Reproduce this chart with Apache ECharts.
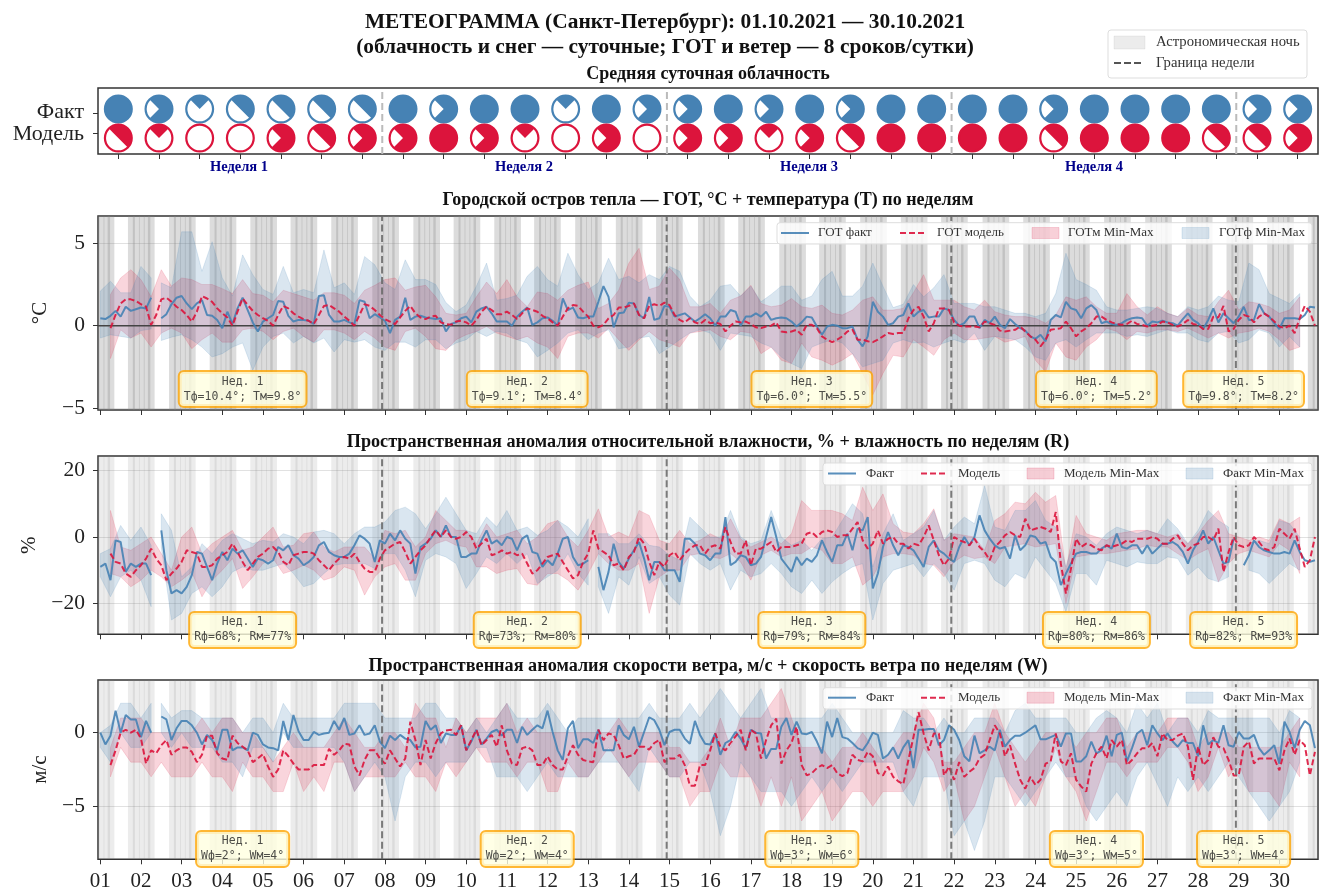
<!DOCTYPE html>
<html><head><meta charset="utf-8">
<script src="https://cdn.jsdelivr.net/npm/echarts@6/dist/echarts.min.js"></script>
<style>html,body{margin:0;padding:0;background:#fff}#c{width:1327px;height:888px}</style>
</head><body><div id="c"></div><script>
const cloudFact=[1,.75,.25,.5,.5,.5,.5,1,.75,1,1,.25,1,.75,.75,1,.75,1,.75,1,1,1,1,.75,1,1,1,1,.75,.75];
const cloudModel=[.5,.25,0,0,.75,.5,.75,.75,1,.75,.25,0,.75,0,.75,.75,.25,.75,.5,1,1,1,1,.5,1,1,1,.5,.5,.75];
const nightStarts=[-.31,.68,1.69,2.69,3.69,4.68,5.68,6.69,7.70,8.69,9.69,10.67,11.68,12.68,13.67,14.70,15.69,16.70,17.68,18.69,19.69,20.68,21.70,22.70,23.68,24.69,25.70,26.70,27.70,28.70,29.70];
const weekBounds=[6.93,13.93,20.93,27.93];
const cloudWeekBounds=[6.49,13.49,20.49,27.49];
const dayLabels=['01','02','03','04','05','06','07','08','09','10','11','12','13','14','15','16','17','18','19','20','21','22','23','24','25','26','27','28','29','30'];
const weekCenters=[3.5,10.5,17.5,24.5,28.12];
const gotNotes=['Tф=10.4°; Tм=9.8°','Tф=9.1°; Tм=8.4°','Tф=6.0°; Tм=5.5°','Tф=6.0°; Tм=5.2°','Tф=9.8°; Tм=8.2°'];
const humNotes=['Rф=68%; Rм=77%','Rф=73%; Rм=80%','Rф=79%; Rм=84%','Rф=80%; Rм=86%','Rф=82%; Rм=93%'];
const windNotes=['Wф=2°; Wм=4°','Wф=2°; Wм=4°','Wф=3°; Wм=6°','Wф=3°; Wм=5°','Wф=3°; Wм=4°'];

const gotFact=[.45,.4,.6,.9,.55,1.15,.9,1,
1.1,1.05,1.7,null,.45,.7,1.3,1.7,
1.8,1.35,1,1.35,1.55,.65,.6,.35,
-.15,.85,.1,1.05,1.7,.95,.2,-.35,
.25,.45,.65,1.5,1.45,.6,.25,.35,
.35,.3,.1,1.8,1.85,.65,.25,.25,
.35,.2,.1,1.55,1.45,.45,.7,.5,
.3,-.45,.35,.55,1.7,.35,.55,.6,
.5,.45,.4,.45,-.35,.1,.2,.45,
.55,.2,.85,1.05,1.15,.75,.25,.25,
.25,0,.55,.85,1.1,.05,.2,.45,
.5,.3,0,1.65,.95,1.1,.5,.45,
.55,.55,1.45,2.4,1.75,-.1,.75,.8,
1.4,1.35,.65,.45,1.75,.35,.45,1.2,
1.15,.55,.65,.75,.5,.25,.45,.7,
.45,0,.55,.55,.95,.85,0,.55,
.55,.75,.55,.85,.35,.45,.5,.45,
.25,-.05,.2,.55,.5,-.05,-.55,-.05,
.05,0,-.15,-.15,-.05,-.85,-1.25,-.65,
1.45,.85,.55,.05,.15,.55,.65,1.35,
.55,.85,.95,.5,.55,.55,1.05,.95,
.35,0,.15,.55,.55,-.15,.35,.15,
.55,.05,-.15,.4,.1,-.15,-.3,-.65,
-.8,-.55,-.95,.35,.65,.5,1.45,1.05,
.95,.45,1.05,1.25,.95,.15,.25,.1,
.05,.15,.35,.45,.5,.45,0,.25,
.2,.3,.2,.15,0,.4,.75,.35,
.15,-.2,.35,1.05,.2,.75,.45,.15,
.55,1.15,.35,.35,1.3,.75,.55,.15,
-.2,.45,.45,.45,.4,.65,1.15,1.1];
const gotModel=[null,null,-.15,.65,1.35,1.6,1.6,1.5,
1.3,1.15,.05,.65,1.6,1.7,1.45,1.15,
.95,.65,.25,.85,1.8,1.65,1.45,1.05,
.75,.5,0,.85,1.65,1.25,.9,.65,
.45,.3,0,.65,1.2,1.05,.75,.55,
.4,.3,.1,.65,1.2,1.25,1.05,.85,
.55,.3,0,.65,1.3,1.2,.95,.65,
.4,.25,.1,.5,.9,1.2,.75,.5,
.4,.55,.6,.2,.1,.05,.25,.3,
.2,0,.35,.85,1.15,.95,.7,.7,
.85,.65,.4,.75,1.05,.95,.85,.6,
.45,.2,0,.55,1.05,1.25,1.2,.85,
.55,0,-.1,.05,.45,.65,1.1,1.1,
1.2,1.35,.65,.45,1.2,1.3,1.2,1.4,
1.25,.65,.35,.2,.45,.2,.1,.35,
.15,.2,.1,-.35,0,.25,.2,.25,
.1,-.1,-.15,-.05,0,.2,-.35,-.4,
-.35,-.25,-.55,.05,.05,-.15,-.65,-.85,
-1,-.85,-.65,-.35,-.25,-.85,-.85,-.95,
-1,-.85,-.65,-.45,-.5,-.45,-.45,.45,
.95,1.15,.55,-.35,.15,1.05,1.05,.95,
.2,0,-.05,-.05,-.05,-.1,.25,.15,
.05,-.3,-.35,-.3,-.25,-.05,-.35,-.65,
-.85,-1.25,-.85,-.25,-.2,-.15,.25,-.15,
-.65,-.35,-.15,.15,.55,.55,.35,.2,
.1,.05,.1,.3,.1,.05,-.05,0,
.05,.25,.2,.05,-.05,.1,.35,.1,
.05,-.2,-.2,.55,.5,1.2,-.35,-.2,
.35,.65,.55,.2,.55,.75,.55,.25,
-.05,-.15,0,-.45,.45,1.2,.85,0];
const gotFactMax=[2.1,2.7,2,2,3.6,2.9,2.6,2.3,5.7,5.7,3.3,5.1,2.9,1.8,4.3,3.1,2.2,1.9,3.6,2,2.2,2,4.6,2.3,2.6,1.9,4.2,3.7,2.6,2.2,4,2.8,2.8,2.5,1.4,.85,1.25,2.4,3.8,1.55,1.65,1.85,3,3.6,2.8,2.4,4.4,3.1,2.2,2.6,4.1,2.8,3,2.6,3.1,2.8,3.6,3.3,1.8,1.15,1.55,2.4,2.5,1.8,2.4,1.45,1.9,2.4,2.4,1.55,1.8,2.8,3.3,1.8,1.8,2.4,3.8,2.4,1.1,1.3,2.5,1.75,2.3,3.1,1.35,1.35,1.35,1.15,1.15,.95,.75,.75,.55,.75,1.95,4.4,2.8,2.5,2.15,1.15,.95,.95,1.05,1.15,1.05,.75,.55,1.15,.95,1.15,1.8,1.55,1.45,3.8,3.4,1.95,1.65,1.35,1.95,2.9];
const gotFactMin=[-.75,-.55,-.65,-.75,-.3,-.2,-.9,-.7,-.55,-.85,-1.3,-1.9,-1.7,-1.3,-1.05,-2.7,-1.3,-.65,-.45,-1.05,-.65,-1.05,-.75,-1.6,-.85,-1,-.85,-1.3,-1.5,-1,-1,-1.3,-.85,-.85,-1.4,-1.05,-.85,-.35,-.65,-.35,-.45,-.85,-1.05,-1.9,-1.5,-1.05,-.45,-.25,-.85,-.45,-.25,-1.4,-1.3,-.75,-.65,-1.7,-1.3,-.85,-.45,-.25,-.45,-1.5,-.45,-.55,-.65,-1.05,-1.3,-1.9,-2.3,-2.6,-1.3,-1.05,-.85,-1.05,-1.7,-2.5,-2.3,-2.1,-1.05,-.85,-1.05,-1,-1.3,-1.05,-.85,-1.05,-.45,-1.5,-.65,-.75,-.85,-1.3,-1.9,-2.1,-1.05,-.85,-1.3,-.85,-.45,-.45,-.45,-.65,-.55,-.65,-.45,-.25,-.45,-.45,-.85,-1,-.45,-.35,-1.05,-.85,-.25,-.45,-1.3,-.65,-1.3,-.35];
const gotModelMax=[null,1.9,2.9,3.4,2.8,1.75,3.4,2.4,2.9,2.8,2.5,2.5,2.25,1.95,2.8,1.95,1.85,1.45,2.15,1.95,1.75,1.55,2,2,1.85,1.35,2.15,2.45,2.8,2.9,2.15,2.35,2.45,1.75,.75,.65,.75,1.75,2.65,1.95,2.8,1.75,1.15,2.05,1.95,1.55,2.15,2.45,2.65,1.05,1.35,2.15,3.8,4.7,2.2,2.4,3.5,2.8,1.15,1.15,1.35,.75,1.55,1.8,2.45,1.35,1.15,1.25,1.65,1.15,1.05,1.25,.75,.65,.95,1.55,1.75,.95,.95,1.05,2,3.1,1.55,1.55,1.55,1.15,.95,1.55,.85,.65,.55,.55,.45,.15,.65,1.75,1.55,1.75,1.15,.75,.75,1.95,1.15,.65,1.15,.75,.55,1.05,.65,.55,1.45,2.15,.95,1.45,1.35,1.15,.75,.95,1.75,1.85];
const gotModelMin=[null,-2,-.25,-.75,-.45,-1.3,-.45,-.15,-.45,-1.4,-.85,-.45,-1,-1,-.25,-.15,-.35,-.85,-.35,-.15,-.65,-1,-.25,-.25,-.45,-.85,-.35,-.75,-1.3,-1.5,-.35,-.15,-.65,-1.4,-1.5,-.85,-.55,-.35,-.05,-.45,-.65,-.85,-.65,-1.05,-1.3,-2,-.65,-.45,-.45,-.75,-.15,-.85,-1.5,-.85,-.35,-.85,-1.05,-1.3,-.45,-.35,-.25,-.65,-.85,-.35,-.45,-1.7,-1.3,-2.1,-2.3,-1.05,-1.9,-2.1,-2.4,-2.1,-1.7,-2.9,-4.2,-2.9,-1.8,-1.9,-.85,-1.3,-1.8,-.85,-.45,-.85,-.85,-.75,-.65,-1,-.85,-.65,-2.1,-2.8,-1.05,-1.9,-2.1,-1.3,-.85,-.15,-.35,-.85,-.35,-.45,-.25,-.25,-.35,-.15,-.45,-.75,-.45,-.75,-.45,-.35,-.15,-.35,-.85,-1.5,-1.3,-.4];

const humFact=[-9,-8,-13,-1,-1.5,-10.5,-8,-9,
-8,-8,-11.5,null,2,-10,-17,-16,
-17,-15,-11.5,-4.5,-5,-9,-13,-8,
-4.5,-7,-3.5,-5,-4,-6.5,-9,-6.5,
-7,-8,-7,-3,-4,-2.5,-5.5,-6.5,
-8.5,-7.5,-6,-2.5,-1.5,-4.5,-5.5,-6,
-6,-5,-2.5,.5,-.5,-2,-7.5,-1,
-2,1,-1,2,-.5,-2,-11,-3,
-2,-.5,2,0,3.5,0,0,-6,
-6,-5,-5,-1,2,-2,-1,-2.5,
0,-.5,-4,-.5,.5,-4.5,-5,-9,
-7,-8.5,-5,-.5,0,-6,-8.5,-8,
-7,null,-9,-16,-10.5,-2,-7.5,-9.5,
-6.5,-4,-1.5,-6.5,-13,-7.5,-7.5,-10,
-10,-10,-13.5,-.5,-.5,-2,-5,-5.5,
-7,-5,-5,6,-8.5,-7.5,-5.5,-6,
-8.5,-8,-6,0,6,0,-6.5,-8.5,
-10.5,-6,-8.5,-6.5,-7.5,-5.5,-1,-4.5,
-7.5,-2.5,-2.5,1,-4,2.5,2,6,
-15.5,-11,-3,1.5,-2.5,-5.5,-2.5,-3,
-4,-6.5,-9,-3,-1,-4,-5,-6.5,
-7.5,-3,0,-2.5,0,6.5,2,-.5,
-2.5,-3.5,-3,-6.5,.5,-4,-2.5,.5,
0,-2,-1.5,-6,-7.5,-14.5,-11,-8,
-5,-4.5,-4.5,-5,-5,-3.5,-2.5,-3.5,
1,-3,-3.5,-2.5,-2.5,-5,-2.5,-5,
-3.5,-2,-2,-1.5,-2.5,-4.5,-8,-4,
-1.5,2,-2,0,-4,-8,-7.5,-.5,
null,-8.5,-5.5,-1,-3,-4,-4.5,-5,
-5,-4.5,-5,-1,-4.5,-7,-7.5,-7];
const humModel=[null,null,-5,-7.5,-8,-11,-12,-10,
-8.5,-6.5,-3.5,-6.5,-8.5,-13,-11,-9.5,
-7.5,-4,-4.5,-5,-9,-9,-8.5,-6.5,
-5.5,-4.5,-2,-4.5,-7.5,-10,-8,-6,
-5,-3.5,-3,-4.5,-7.5,-8.5,-5.5,-5,
-4.5,-4.5,-5,-7,-8.5,-10,-8,-6.5,
-6,-6.5,-5,-7.5,-9.5,-10.5,-10.5,-6.5,
-4,-3,-2,-1.5,-4.5,-8,-6,-4,
-2.5,0,2,0,2,0,-.5,0,
1.5,0,-3.5,-2,-.5,-5.5,-5,-4,
-5,-4.5,-5.5,-5,-8,-11,-10,-8,
-6,-5.5,-5,-7.5,-10,-12.5,-11.5,-7.5,
-5,2,-3.5,-4.5,-5.5,-8.5,-8,-10,
-6,-4.5,0,-2,-7.5,-11.5,-7.5,-9,
-5.5,-4.5,-7,-5,-3.5,-2.5,-2.5,-5,
-3,-2.5,-3.5,3,-1.5,-5,-5,-1,
-8.5,-3.5,-3.5,-2.5,-1.5,-4.5,-3,-3,
-3,-2.5,-2,1,1.5,0,1.5,2,
1.5,0,.5,.5,2.5,4.5,-1,-3.5,
-2,2,-2,-.5,0,-2,-2,-3.5,
-2,-2.5,0,3.5,-1,-5.5,-8.5,-6.5,
0,-1,-1.5,-2.5,-.5,-3,-4.5,-7,
-3,-1.5,.5,1.5,.5,0,5.5,2,
2.5,3,2.5,1.5,7.5,-8,-17,-9.5,
-.5,-3,-2,-2.5,-3.5,-4,-2.5,-3,
-2.5,-2,-1,-1.5,-.5,-.5,-.5,0,
-.5,-2,-2,-.5,.5,-2,-4,-2.5,
-2,0,0,-1,2.5,-10.5,-4.5,0,
-2.5,-3,-2.5,0,-1.5,-3.5,-4,-3,
2.5,1,-.5,2.5,-3.5,-9,-7,0];
const humFactMax=[-5,-3.5,3.5,-1,3,-2.5,7,2,-12,-9,-2,-5,-1,1,-.5,-2,-1,-1.5,1,0,-2,1.5,2,1,-2,1,3,3,4.5,8,9,7,2.5,7,12,7,2,1,6,3,8,2,3,.5,2,5,3,0,5.5,1,1,-2,-2,1,-2.5,-3,-5.5,-7,6,3,0,0,8,0,-2,-1,8,0,-2.5,-1,-4,-.5,0,5,10,7,-9,1,7,-1,1,3,8,-1,3,6,4,15.5,3,2,8,8,11,5,3,-9,1,0,-2.5,1,3,2,1,2,1,5.5,2.5,-2,2,8,5,3,0,-2,-1,-2,5,4,0,-3];
const humFactMin=[-12,-18,-12,-10,-13,-21,-3,-25,-23,-17,-15,-18,-15,-10.5,-9,-10,-10,-9,-8,-11,-15,-14,-11,-8.5,-8,-8,-8,-9.5,-5,-5,-10,-18,-7,-5,-6,-8,-15.5,-11,-6,-8,-5,-8,-5,-14,-12,-10,-5,-11,-14.5,-15,-23,-12,-14.5,-6,-14,-12,-17.5,-20.5,-5,-8,-10,-8,-16,-10,-12,-11,-8,-11,-15,-17,-13,-17,-13.5,-11,-9,-8,-25,-14,-10,-9,-8,-12,-8,-11,-16,-8,-7,-8,-13,-15,-11,-12.5,-6,-10,-14,-22.5,-11,-11,-14.5,-7,-8,-9,-7.5,-8,-8,-6,-6.5,-11.5,-9,-12.5,-13.5,-12,null,-10,-11,-14,-11,-8,-10,-15];
const humModelMax=[null,8,-3,-4,-2,0,-5,-10,0,3,-5,-2,0,2,-4,-3,0,3,-3,-2.5,1,1.5,-3,-4.5,-3,-3,-3,-6.5,2,1,2,-3,0,8,5,2,2,-2,4,0,1,2,-2,0,4,5,0,-3,2,8.5,0,1.5,0,8,6.5,-1,-2,2,-2,-1,1,-.5,5.5,-.5,-3,-1.5,0,-2,1,11,8,8,8,7,5,15,8,13,4,1.5,1,4,8.5,-1,1,.5,0,-4,5,7,10.5,10,13.5,10.5,12.5,-10,6.5,1,0,-1,1,1.5,2,2,1,0,1,-2,1,5,8,1,0,-1,0,-1,5.5,4,6,-4];
const humModelMin=[null,-11,-12,-15,-13,-10,-12,-15,-13,-10.5,-18,-13,-10,-6.5,-15.5,-12,-8,-6.5,-11,-10,-8.5,-10,-13,-12,-9,-10,-17.5,-12,-9,-8,-13,-13,-5,-2,-1,-2.5,-3,-9,-9,-11,-10,-9.5,-14,-14.5,-11,-11,-13,-16,-11,-5,-8,-10,-10,-8,-23,-12,-10,-10,-5.5,-5,-6,-6.5,-5,-7.5,-13,-5.5,-4,-6,-5,-5,-3,-4,-8,-8,-6,-14.5,-12,-6,-5,-5,-5.5,-8,-8.5,-12,-7.5,-5.5,-6.5,-6,-8,-3,-2.5,-2,-3,-2.5,-2,-20,-6,-5.5,-5,-5,-4.5,-4,-3.5,-2.5,-3,-3,-5,-7,-5,-3.5,-13.5,-8,-5,-4,-5,-6,-2,-4,-11,-10];

const windFact=[0,-.8,-.2,1.5,0,1.2,.9,.9,
-.3,.8,0,null,1.1,.9,-.5,.3,
.8,.8,.5,0,-.8,-.15,-.5,-1.2,
.2,.2,-1.2,-1,-1,-1.2,0,-.15,
-.8,-1,-1.05,-1.2,.8,-.5,1.2,.1,
-.5,-.5,.05,-.15,-.05,0,.8,.2,
1,-.15,-.05,.5,-.15,-.05,.5,-.6,
-1.05,-.2,-.5,-.15,-.4,-.5,-1,-.95,
.8,.2,.5,-.7,-.05,-.15,-.15,.5,
-1.2,-.6,.2,-.8,-.4,.05,.2,-.2,
.2,.2,-.7,.4,-.15,.2,.5,.3,
1.5,.05,-1.2,-1.85,.3,.8,-1.05,-.45,
-.45,-.7,.2,-1.2,-1.2,-1.2,.5,-.15,
-.45,.4,-.95,.05,1.05,.85,.2,-.85,
.05,.2,.2,-.4,-.75,.8,-.15,-.75,
-.8,-.05,-1.5,-.7,-.5,.05,-.4,-1.05,
.2,0,-.05,-1.75,-1.1,-1.1,.4,1,
-.15,.75,-.05,-.1,.05,-.6,-1.4,.75,
-.3,1,-.3,-.4,-.7,-1.05,-1.2,-.7,
0,-.15,-1.75,-1.5,-1,-1.75,-1,-.5,
-2.4,.2,.2,.25,.25,-.85,-.5,.5,
.2,-.5,-1.6,-1.95,-.2,-1.4,-1.2,-.95,
-1.2,.2,-.95,-.5,-.2,-.2,0,.25,
.5,-.45,-.45,-.3,-.15,-.95,-.05,-.05,
-1.95,-1.95,-1.6,-.6,-1.4,-1.2,-.2,-1.6,
-.15,0,-1.95,-1.05,-.05,.2,-.85,.5,
-.05,-.5,-.05,-.6,-.95,-.5,-.7,-.7,
-1.6,.5,-.8,-.5,-.7,.5,-.85,-.95,
.05,-.4,-.4,-.15,-1.05,-1.5,-1.2,-.85,
-2.1,.75,.05,-1.05,.2,.8,.5,-1.05];
const windModel=[null,null,-2.2,-1.2,0,.2,0,.2,
-.4,-2.1,-1.2,-1.4,-.85,-.5,-1.5,-1.2,
-1,-1,-1.3,-2,-1.5,-.2,-.2,-1.4,
-1.75,-1.85,-.2,-.7,-.95,-1.2,-2,-1.75,
-1.45,-2.3,-3,-2.5,-1.2,-1.6,-2.1,-2.5,
-2.5,-2.5,-2.2,-2.2,-2.2,-1.1,-1.5,-1.2,
-.75,-.8,-2.3,-2.9,-1.85,-1.2,-1.2,-1.75,
-2.1,-1.2,-1.75,-2.3,-1.75,.75,-.5,-2.2,
-.5,-1.75,-.7,-.05,.15,.2,-.15,.5,
-1.2,-.5,.2,-.85,-.5,-.15,-.95,.5,
-1.2,-2.1,-2.2,-1.05,-.95,-1.2,-2.2,-2.2,
-1.6,-2.2,-2.5,-2.5,-1.6,-.85,-1.5,-1.85,
-1.95,-2,.2,-.5,-.05,-.15,-.85,-1.75,
-1.6,-1.5,-.95,-.95,-1.15,-.7,-.5,-2,
-1.75,-1.75,-1.5,-2.2,-3.6,-3.6,-2.2,-2.2,
-1.2,-.05,-.95,-1.2,-.7,-.25,.2,-1.2,
.2,-.05,-1.75,-.5,.5,.95,-2.1,-1.2,
-.7,.4,-2.2,-2.9,-2.75,-2.4,-2.2,-2.4,
-2.2,-2.75,-2.95,-2.75,-1.5,-1.85,-1.95,-1.3,
-1.6,-2.75,-2.9,-2.3,-3,-3.3,-3.5,-1.85,
-.3,1.4,-.05,-1.2,-.05,-.05,-2.9,-2.3,
-3.2,-2,-3,-2.65,-2.4,-1.75,-1.5,-.5,
.5,-.05,-1.6,-.85,-2.1,-3.2,-3.8,-3,
-3.55,-3.2,-2.1,-1.95,-.05,-1.95,-2.2,-1.4,
-3.2,-3.65,-4,-2.1,-1.4,-.95,-1.75,-.5,
-.95,-.5,-2.2,-1.85,-1.4,-1.05,-1.05,-.7,
-1.6,-.05,-.5,-.5,-.2,-.05,-.95,-3.2,
-.95,-2.2,-1.85,-.3,-.95,-1.05,-1.85,-2.9,
-2.9,-.95,-.6,-2.1,-1.75,-1.75,-1.75,-1.75,
-2.55,-1.2,-.4,-1.5,-.5,-.85,-2.9,-1.3];
const windFactMax=[0,.5,2,2,1,2,2,1,1.5,1.5,1,1,1,1,0,1,1,0,2,1,1,1,1,1,2,2,2,2,1,1,1,1,2,2,1,1,0,1,0,1,2,1,1,1,2,1,0,1,1,1,1,1,1,1,2,1,1,1,2,1,2,3,2,1,2,3,1,1,1,1,1,1,2,1,0,0,0,0,0,1.5,1,1,0,1,0,0,1,1,1,0,1.5,2,1,1,1,1,0,0,1,1.5,1,0,2,1,2,0,1,1,0,1.5,1,1,1,1,1,1,0,1.5,1,1];
const windFactMin=[-1,-2,0,-1,-1,0,0,-1,0,-1,-1,-1,-2,-2,-3,-1,-1,-2,0,-1,-1,-1,-1,-1,-2,-4,-3,-2,-3,-6,-3,-2,-2,-3,-2,-2,-2,-1,-1,-3,-3,-3,-4,-3,-2,-3,-3,-3,-3,-2,-2,-2,-3,-4,-1,-2,-3,-3,-2,-2,-4,-7,-5,-2,-3,-4,-4,-4,-5,-4,-3,-4,-3,-4,-3,-2,-2,-2,-2,-4,-5,-3,-3,-3,-7,-6,-8,-6,-3,-3,-4,-5,-4,-3,-2,-3,-3,-5,-6,-5,-4,-5,-3,-2,-3.5,-5,-3,-4,-3,-4,-3,-2,-3,-4,-5,-6,-5,-4,-2,-3];
const windModelMax=[null,-1,1,1,1,0,0,0,0,0,1,0,1,1,0,0,-1,-2,-1,0,-1,-1,-1,0,1,0,-1,-1,0,0,-1,2,1,1,-1,1,0,1,1,1,2,0,1,0,0,0,0,0,0,0,0,1,0,0,0,0,-1,-1,-2,-2,-1,1,-1,1,1,1,2,3,1,-1,-1,-1,-2,-1,-1,0,-1,-2,-1,0,0,2,1,-2,-2,-1,0,0,2,0,-1,-2,-1,0,0,0,-1,0,0,1,1,-1,0,0,0,1,1,1,-1,0,0,0,-1,-1,-1,-1,-1,0,1,0];
const windModelMin=[null,-3,-1,-2,-2,-3,-2,-3,-3,-3,-2,-3,-3,-4,-2,-3,-3,-4,-4,-2,-4,-3,-4,-2,-2,-4,-3,-3,-3,-3,-2,-3,-3,-4,-2,-3,-2,-1,-2,-2,-2,-3,-2,-2,-4,-4,-2,-3,-3,-2,-1,-2,-3,-2,-2,-2,-3,-3,-5,-4,-4,-2,-3,-3,-3,-5,-3,-5,-3,-6,-5,-4,-6,-5,-4,-4,-5,-4,-4,-4,-3,-1,-2,-4,-3,-6,-5,-3,-1,-3,-5,-4,-5,-3,-1,-3,-4,-6,-4,-2,-2,-3,-2,-2,-2,-1,-1,-2,-4,-3,-1,-3,-2,-4,-4,-4,-5,-2,-3,-4];

const SERIF='Liberation Serif', MONO='DejaVu Sans Mono';
const BLUE='#4682b4', RED='#dc143c';
const xMin=-0.057, xMax=29.95;
const bandX=gotFactMax.map((_,i)=>i/4); bandX[119]=29.875;
const lineX=gotFact.map((_,i)=>i/8);
const dayTicks=dayLabels.map((_,i)=>i);
const nightPieces=[[0,.17],[.12,.29],[.27,.41],[.39,.55],[.49,.655]];

const panels=[
 {top:216,h:194,yMin:-5.12,yMax:6.66,yTicks:[-5,0,5],name:'°C',nameGap:32,nameSize:21,night:.28,fact:gotFact,model:gotModel,fMin:gotFactMin,fMax:gotFactMax,mMin:gotModelMin,mMax:gotModelMax,gaps:[1.25],notes:gotNotes,noteY:-3.85,zero:true},
 {top:456,h:178.3,yMin:-29.3,yMax:24.4,yTicks:[-20,0,20],name:'%',nameGap:56,nameSize:21,night:.15,fact:humFact,model:humModel,fMin:humFactMin,fMax:humFactMax,mMin:humModelMin,mMax:humModelMax,gaps:[1.25,12],notes:humNotes,noteY:-28,zero:false},
 {top:680,h:179.3,yMin:-8.6,yMax:3.58,yTicks:[-5,0],name:'м/с',nameGap:43,nameSize:21,night:.15,fact:windFact,model:windModel,fMin:windFactMin,fMax:windFactMax,mMin:windModelMin,mMax:windModelMax,gaps:[1.25],notes:windNotes,noteY:-7.9,zero:false}
];
const noLine={show:false,onZero:false};

const grid=[{left:98,top:88,width:1220,height:66,show:true,borderColor:'#333',borderWidth:1.5,outerBoundsMode:'none'}];
const xAxis=[{gridIndex:0,type:'value',min:-.5,max:29.5,axisLine:noLine,
  axisTick:{show:true,length:5,customValues:dayTicks,lineStyle:{color:'#333'}},axisLabel:{show:false},splitLine:{show:false}}];
const yAxis=[{gridIndex:0,type:'value',min:-1.05,max:2.25,axisLine:noLine,
  axisTick:{show:true,length:5,customValues:[0,1],lineStyle:{color:'#333'}},
  axisLabel:{show:false},splitLine:{show:false}}];
const series=[];

function pieSeries(vals,yPos,color){
 series.push({type:'custom',xAxisIndex:0,yAxisIndex:0,z:5,silent:true,
  data:vals.map((f,i)=>[i,yPos,f]),encode:{x:0,y:1},
  renderItem(params,api){
   const p=api.coord([api.value(0),api.value(1)]),f=api.value(2),R=13.4;
   const kids=[{type:'circle',shape:{cx:p[0],cy:p[1],r:R},style:{fill:f>=1?color:'#fff',stroke:color,lineWidth:2.2}}];
   if(f>0&&f<1){
    const a=-135*Math.PI/180;
    kids.push({type:'sector',shape:{cx:p[0],cy:p[1],r0:0,r:R,startAngle:a,endAngle:a+f*2*Math.PI,clockwise:true},style:{fill:color}});
   }
   return {type:'group',children:kids};
  }});
}
pieSeries(cloudFact,1.2,BLUE);
pieSeries(cloudModel,-.25,RED);
series.push({type:'line',xAxisIndex:0,yAxisIndex:0,z:4,symbol:'none',silent:true,
 data:cloudWeekBounds.flatMap(x=>[[x,-1.05],[x,2.25],[x,null]]),connectNulls:false,
 lineStyle:{color:'#bbb',width:2,type:[7,4]}});

function bandSeries(ax,xs,lo,hi,gaps,color,fill,stroke,z){
 const rows=xs.map((x,i)=>[x,lo[i],hi[i]]).filter(r=>r[1]!=null&&r[2]!=null);
 series.push({type:'custom',xAxisIndex:ax,yAxisIndex:ax,z,silent:true,clip:true,data:rows,encode:{x:0,y:[1,2]},
  renderItem(params,api){
   if(params.dataIndex!==0) return null;
   const segs=[];let cur=[];
   rows.forEach((r,i)=>{
    cur.push(r);
    const nx=rows[i+1];
    if(!nx||gaps.includes(r[0])||nx[0]-r[0]>.3){segs.push(cur);cur=[];}
   });
   return {type:'group',children:segs.filter(s=>s.length>1).map(s=>{
    const pts=s.map(r=>api.coord([r[0],r[2]])).concat(s.slice().reverse().map(r=>api.coord([r[0],r[1]])));
    return {type:'polygon',shape:{points:pts},style:{fill,stroke,lineWidth:1}};
   })};
  }});
}

panels.forEach((p,k)=>{
 const ax=k+1;
 grid.push({left:98,top:p.top,width:1220,height:p.h,show:true,borderColor:'#333',borderWidth:1.5,outerBoundsMode:'none'});
 xAxis.push({gridIndex:ax,type:'value',min:xMin,max:xMax,axisLine:noLine,
  axisTick:{show:true,length:5,customValues:dayTicks,lineStyle:{color:'#333'}},
  axisLabel:{show:k===2,customValues:dayTicks,formatter:v=>dayLabels[Math.round(v)],fontFamily:SERIF,fontSize:21,color:'#222',margin:12,hideOverlap:false},
  splitLine:{show:false}});
 yAxis.push({gridIndex:ax,type:'value',min:p.yMin,max:p.yMax,axisLine:noLine,
  name:p.name,nameLocation:'middle',nameRotate:90,nameGap:p.nameGap,nameTextStyle:{fontFamily:SERIF,fontSize:p.nameSize,color:'#222'},
  axisTick:{show:true,length:5,customValues:p.yTicks,lineStyle:{color:'#333'}},
  axisLabel:{show:true,customValues:p.yTicks,formatter:v=>String(v).replace('-','\u2212'),fontFamily:SERIF,fontSize:21.5,color:'#222',margin:13},
  splitLine:{show:true,lineStyle:{color:'rgba(120,120,120,.22)',width:1}}});
 const rows=nightStarts.flatMap(s=>nightPieces.map(q=>[s+q[0],s+q[1]]));
 series.push({type:'custom',xAxisIndex:ax,yAxisIndex:ax,z:1,silent:true,clip:true,data:rows,encode:{x:[0,1]},
  renderItem(params,api){
   const cs=params.coordSys,a=api.coord([api.value(0),0])[0],b=api.coord([api.value(1),0])[0];
   const x0=Math.max(a,cs.x),x1=Math.min(b,cs.x+cs.width);
   if(x1<=x0) return null;
   return {type:'rect',shape:{x:x0,y:cs.y,width:x1-x0,height:cs.height},style:{fill:'rgba(128,128,128,'+p.night+')'}};
  }});
 bandSeries(ax,bandX,p.mMin,p.mMax,[],RED,'rgba(220,20,60,.18)','rgba(220,20,60,.14)',2);
 bandSeries(ax,bandX,p.fMin,p.fMax,p.gaps,BLUE,'rgba(70,130,180,.2)','rgba(70,130,180,.16)',2);
 if(p.zero) series.push({type:'line',xAxisIndex:ax,yAxisIndex:ax,z:3,symbol:'none',silent:true,data:[[xMin,0],[xMax,0]],lineStyle:{color:'#444',width:1.6}});
 series.push({type:'line',xAxisIndex:ax,yAxisIndex:ax,z:3,symbol:'none',silent:true,data:lineX.map((x,i)=>[x,p.fact[i]]),connectNulls:false,lineStyle:{color:BLUE,width:2,opacity:.9}});
 series.push({type:'line',xAxisIndex:ax,yAxisIndex:ax,z:3,symbol:'none',silent:true,data:lineX.map((x,i)=>[x,p.model[i]]),connectNulls:false,lineStyle:{color:RED,width:2,type:[6,3],opacity:.9}});
 series.push({type:'line',xAxisIndex:ax,yAxisIndex:ax,z:4,symbol:'none',silent:true,data:weekBounds.flatMap(x=>[[x,p.yMin],[x,p.yMax],[x,null]]),connectNulls:false,lineStyle:{color:'#666',width:2,type:[7,3.5],opacity:.85}});
 series.push({type:'scatter',xAxisIndex:ax,yAxisIndex:ax,z:20,symbolSize:1,itemStyle:{color:'transparent'},silent:true,clip:false,
  data:weekCenters.map((x,i)=>({value:[x,p.noteY],label:{formatter:'Нед. '+(i+1)+'\n'+p.notes[i]}})),
  label:{show:true,position:'inside',fontFamily:MONO,fontSize:11.5,lineHeight:15,color:'#222',align:'center',
   backgroundColor:'#ffffe0',borderColor:'#ffa500',borderWidth:2,borderRadius:4,padding:[2,4]}});
});

function T(x,y,text,o){return Object.assign({type:'text',z:100,x,y,style:Object.assign({text,fontFamily:SERIF,fontSize:13,fill:'#333',textVerticalAlign:'middle'},o||{})});}
function box(x,y,w,h){return {type:'rect',z:99,shape:{x,y,width:w,height:h,r:3},style:{fill:'rgba(255,255,255,.82)',stroke:'#ddd',lineWidth:1}};}
function swatch(x,y,w,h,c,s){return {type:'rect',z:100,shape:{x,y,width:w,height:h},style:{fill:c,stroke:s,lineWidth:1}};}
function lin(x0,x1,y,c,dash){return {type:'line',z:100,shape:{x1:x0,y1:y,x2:x1,y2:y},style:{stroke:c,lineWidth:2,lineDash:dash||null}};}
const gfx=[
 T(84,112,'Факт',{fontSize:22,textAlign:'right',fill:'#222'}),T(84,134,'Модель',{fontSize:22,textAlign:'right',fill:'#222'}),
 box(1108,30,199,48),swatch(1114,36,31,13,'rgba(128,128,128,.15)','rgba(128,128,128,.1)'),T(1156,42,'Астрономическая ночь',{fontSize:14.7}),
 lin(1114,1144,63,'#555',[7,3]),T(1156,63,'Граница недели',{fontSize:14.7}),
 ...[239,524,809,1094].map((x,i)=>T(x,167,'Неделя '+(i+1),{fontWeight:'bold',fill:'#00008b',textAlign:'center',fontSize:14.5})),
];
[[777,222.7,535,21.3,233,'ГОТ факт','ГОТ модель','ГОТм Min-Max','ГОТф Min-Max',781,818,900,937,1032,1068,1182,1219],
 [823,463,489,22,473.5,'Факт','Модель','Модель Min-Max','Факт Min-Max',828,866,921,958,1027,1064,1186,1223],
 [823,687.7,489,21.3,697.7,'Факт','Модель','Модель Min-Max','Факт Min-Max',828,866,921,958,1027,1064,1186,1223]
].forEach(L=>{
 const [bx,by,bw,bh,cy,t1,t2,t3,t4,a,b,c,d,e,f,g,h]=L;
 gfx.push(box(bx,by,bw,bh),lin(a,a+28,cy,'rgba(70,130,180,.9)'),T(b,cy,t1),lin(c,c+27,cy,'rgba(220,20,60,.9)',[6,3]),T(d,cy,t2),
  swatch(e,cy-5.5,27,11,'rgba(220,20,60,.2)','rgba(220,20,60,.16)'),T(f,cy,t3),swatch(g,cy-5.5,27,11,'rgba(70,130,180,.2)','rgba(70,130,180,.16)'),T(h,cy,t4));
});

const titleStyle=(s)=>({fontFamily:SERIF,fontWeight:'bold',fontSize:s,color:'#111'});
const chart=echarts.init(document.getElementById('c'),null,{renderer:'canvas'});
chart.setOption({animation:false,backgroundColor:'#fff',
 title:[
  {text:'МЕТЕОГРАММА (Санкт-Петербург): 01.10.2021 — 30.10.2021',left:660,top:7,textAlign:'center',textStyle:titleStyle(21.4)},
  {text:'(облачность и снег — суточные; ГОТ и ветер — 8 сроков/сутки)',left:660,top:32,textAlign:'center',textStyle:titleStyle(21.4)},
  {text:'Средняя суточная облачность',left:703,top:60,textAlign:'center',textStyle:titleStyle(18)},
  {text:'Городской остров тепла — ГОТ, °C + температура (T) по неделям',left:703,top:186,textAlign:'center',textStyle:titleStyle(18)},
  {text:'Пространственная аномалия относительной влажности, % + влажность по неделям (R)',left:703,top:428,textAlign:'center',textStyle:titleStyle(18.2)},
  {text:'Пространственная аномалия скорости ветра, м/с + скорость ветра по неделям (W)',left:703,top:652,textAlign:'center',textStyle:titleStyle(18.2)}
 ],
 grid,xAxis,yAxis,series,graphic:gfx});
</script></body></html>
